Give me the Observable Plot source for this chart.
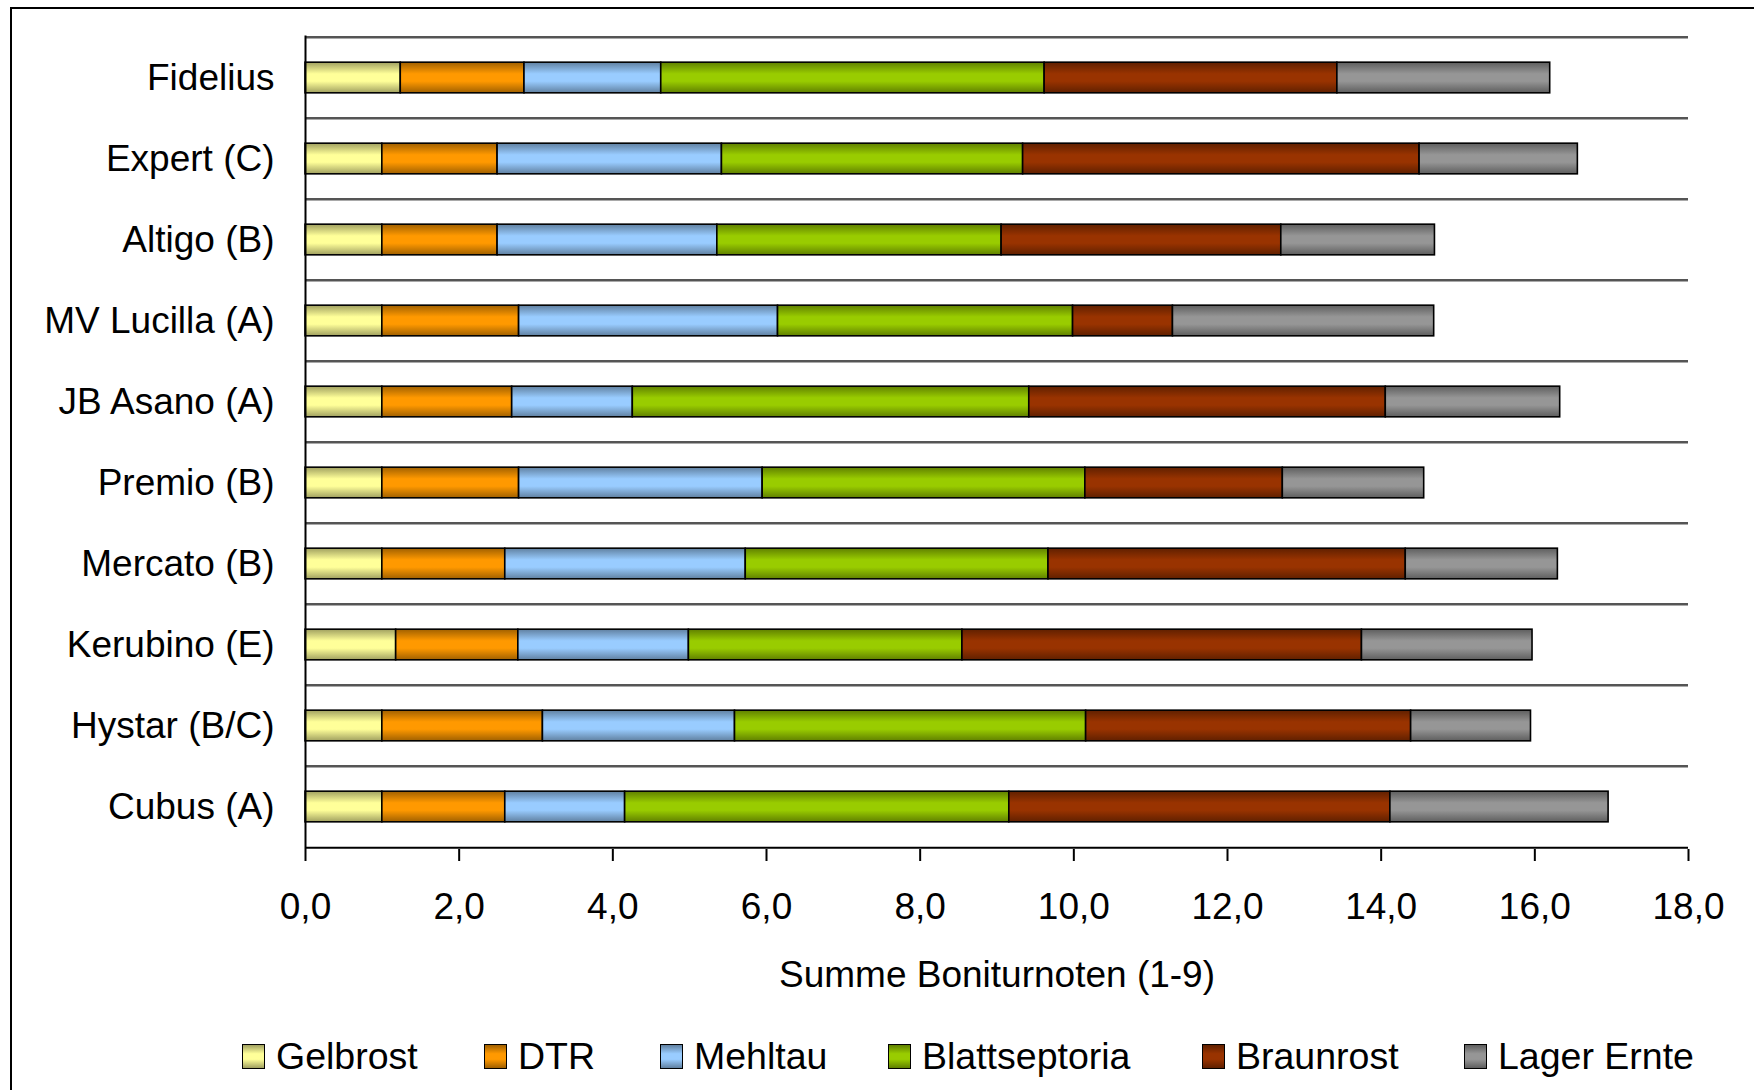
<!DOCTYPE html>
<html>
<head>
<meta charset="utf-8">
<script src="https://cdn.jsdelivr.net/npm/d3@7"></script>
<script src="https://cdn.jsdelivr.net/npm/@observablehq/plot@0.6"></script>
<style>
  html, body { margin: 0; padding: 0; background: #fff; }
  body { width: 1754px; height: 1090px; overflow: hidden; position: relative; font-family: "Liberation Sans", Arial, sans-serif; }
  #frame { position: absolute; left: 10px; top: 7px; width: 3000px; height: 3000px; border: 2px solid #000; box-sizing: border-box; }
  #chart { position: absolute; left: 0; top: 0; }
  #legend { position: absolute; left: 0; top: 1036px; width: 1754px; height: 40px; font-size: 37.5px; color: #000; }
  .item { position: absolute; top: 0; height: 40px; display: flex; align-items: center; white-space: nowrap; }
  .sw { width: 23px; height: 25px; box-sizing: border-box; border: 1.5px solid #000; margin-right: 11px; }
</style>
</head>
<body>
<div id="frame"></div>
<div id="chart"></div>
<div id="legend"></div>
<script>
const categories = ["Fidelius", "Expert (C)", "Altigo (B)", "MV Lucilla (A)", "JB Asano (A)", "Premio (B)", "Mercato (B)", "Kerubino (E)", "Hystar (B/C)", "Cubus (A)"];
const series = ["Gelbrost", "DTR", "Mehltau", "Blattseptoria", "Braunrost", "Lager Ernte"];
const gelbrost      = [1.24, 1.00, 1.00, 1.00, 1.00, 1.00, 1.00, 1.18, 1.00, 1.00];
const dtr           = [1.61, 1.50, 1.50, 1.78, 1.69, 1.78, 1.60, 1.59, 2.09, 1.60];
const mehltau       = [1.78, 2.92, 2.86, 3.37, 1.57, 3.17, 3.13, 2.22, 2.50, 1.56];
const blattseptoria = [4.99, 3.92, 3.70, 3.84, 5.16, 4.20, 3.94, 3.56, 4.57, 5.00];
const braunrost     = [3.81, 5.16, 3.64, 1.30, 4.64, 2.57, 4.65, 5.20, 4.23, 4.96];
const lagerErnte    = [2.77, 2.06, 2.00, 3.40, 2.27, 1.84, 1.98, 2.22, 1.56, 2.84];
const xTicks = [0, 2, 4, 6, 8, 10, 12, 14, 16, 18];
const colors = ["#FFFF99", "#FF9900", "#99CCFF", "#99CC00", "#993300", "#969696"];
const legendLeft = [242, 484, 660, 888, 1202, 1464];

const valueArrays = [gelbrost, dtr, mehltau, blattseptoria, braunrost, lagerErnte];
const data = [];
categories.forEach((c, i) => {
  series.forEach((s, j) => data.push({variety: c, disease: s, value: valueArrays[j][i]}));
});

const W = 1754, H = 1015;
const mTop = 35.5, axisY = 849, mLeft = 305, mRight = 66;
const mBottom = H - axisY;
const step = (axisY - mTop) / categories.length;
const barH = 31;
const inset = (step - barH) / 2;

const plot = Plot.plot({
  width: W,
  height: H,
  marginTop: mTop,
  marginBottom: mBottom,
  marginLeft: mLeft,
  marginRight: mRight,
  style: {fontFamily: "'Liberation Sans', Arial, sans-serif", fontSize: "37px", color: "#000", background: "transparent"},
  x: {domain: [0, 18]},
  y: {type: "band", domain: categories, padding: 0},
  color: {type: "ordinal", domain: series, range: series.map((s, i) => `url(#grad${i})`)},
  marks: [
    Plot.ruleY(categories, {y: d => d, dy: -step / 2, stroke: "#555", strokeWidth: 2.5}),
    Plot.barX(data, Plot.stackX({y: "variety", x: "value", fill: "disease", stroke: "#000", strokeWidth: 1.6, insetTop: inset, insetBottom: inset})),
    Plot.ruleY([categories[categories.length - 1]], {y: d => d, dy: step / 2, stroke: "#000", strokeWidth: 2}),
    Plot.ruleX([0], {stroke: "#000", strokeWidth: 2}),
    Plot.axisY({tickSize: 0, tickPadding: 31, label: null}),
    Plot.axisX({ticks: xTicks, tickFormat: d => d.toFixed(1).replace(".", ","), tickSize: 12, tickPadding: 31, strokeWidth: 2,
      label: "Summe Boniturnoten (1-9)", labelAnchor: "center", labelArrow: "none", labelOffset: 137})
  ]
});

const defs = d3.select(plot).insert("defs", ":first-child");
colors.forEach((c, i) => {
  const g = defs.append("linearGradient").attr("id", `grad${i}`).attr("x1", 0).attr("y1", 0).attr("x2", 0).attr("y2", 1);
  const dark = d3.color(c).darker(1.3).formatHex();
  g.append("stop").attr("offset", "0%").attr("stop-color", dark);
  g.append("stop").attr("offset", "38%").attr("stop-color", c);
  g.append("stop").attr("offset", "62%").attr("stop-color", c);
  g.append("stop").attr("offset", "100%").attr("stop-color", dark);
});
document.getElementById("chart").appendChild(plot);

const legend = document.getElementById("legend");
series.forEach((s, i) => {
  const item = document.createElement("div");
  item.className = "item";
  item.style.left = legendLeft[i] + "px";
  const sw = document.createElement("div");
  sw.className = "sw";
  const dark = d3.color(colors[i]).darker(1.3).formatHex();
  sw.style.background = `linear-gradient(to bottom, ${dark} 0%, ${colors[i]} 38%, ${colors[i]} 62%, ${dark} 100%)`;
  const t = document.createElement("span");
  t.textContent = s;
  item.appendChild(sw);
  item.appendChild(t);
  legend.appendChild(item);
});
</script>
</body>
</html>
